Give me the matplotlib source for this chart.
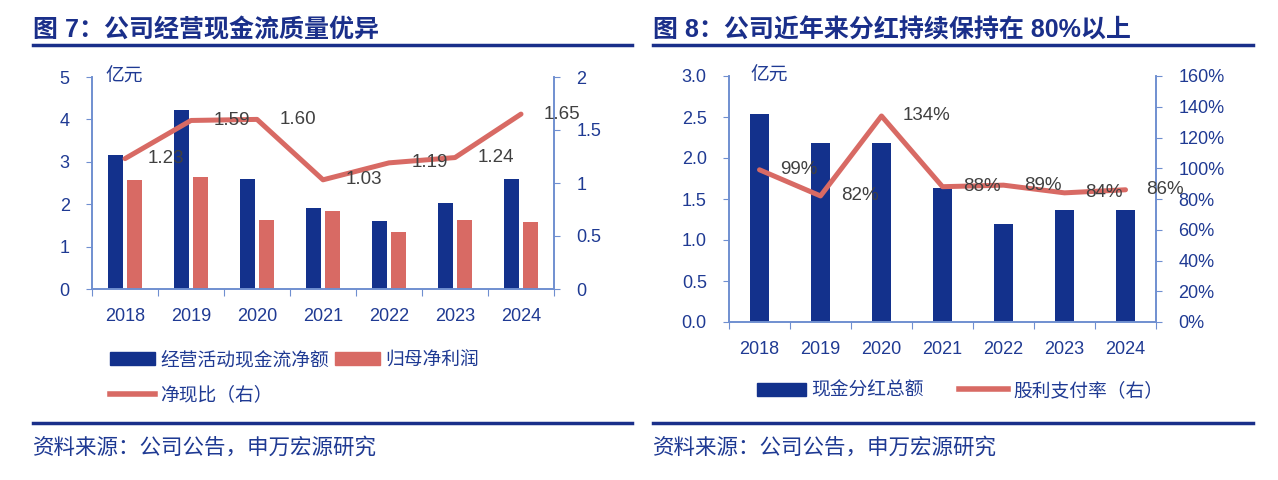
import matplotlib
matplotlib.use('Agg')
import matplotlib.pyplot as plt
from matplotlib.lines import Line2D
from matplotlib.patches import Patch
import numpy as np

plt.rcParams['font.family'] = ['Liberation Sans', 'Noto Sans CJK SC']

# data
years = ['2018', '2019', '2020', '2021', '2022', '2023', '2024']
ocf = [3.15, 4.22, 2.60, 1.90, 1.60, 2.02, 2.60]          # 经营活动现金流净额
net_profit = [2.56, 2.65, 1.62, 1.85, 1.34, 1.62, 1.57]   # 归母净利润
cash_ratio = [1.23, 1.59, 1.60, 1.03, 1.19, 1.24, 1.65]   # 净现比
dividend = [2.54, 2.18, 2.18, 1.64, 1.20, 1.37, 1.36]     # 现金分红总额
payout = [99, 82, 134, 88, 89, 84, 86]                    # 股利支付率 %

NAVY = '#13318c'
RED = '#d86a64'
AXC = '#6f8fd0'
TXT = '#1f3a93'
LBL = '#404040'
TITLE = '#1a2f8a'

fig = plt.figure(figsize=(12.78, 4.8), dpi=100)
W, H = 1278, 480


def fx(px):
    return px / W


def fy(py):
    return 1 - py / H


def style(ax, twin):
    x = np.arange(len(years))
    ax.set_xlim(-0.5, len(years) - 0.5)
    ax.set_xticks(np.arange(-0.5, len(years)), [''] * (len(years) + 1))
    ax.set_xticks(x, years, minor=True)
    ax.tick_params(axis='x', which='major', length=5, color=AXC, direction='out')
    ax.tick_params(axis='x', which='minor', length=0, pad=14, labelsize=13, labelcolor=TXT)
    ax.tick_params(axis='y', length=4, color=AXC, labelsize=13, labelcolor=TXT, pad=12)
    twin.tick_params(axis='y', length=4, color=AXC, labelsize=13, labelcolor=TXT, pad=12)
    for a in (ax, twin):
        a.spines['top'].set_visible(False)
        for s in ('left', 'right', 'bottom'):
            a.spines[s].set_color(AXC)
            a.spines[s].set_linewidth(1.2)


def header(x0, x1, title):
    fig.text(fx(x0), fy(30), title, fontsize=18, fontweight='bold', color=TITLE,
             va='center', ha='left')
    fig.add_artist(Line2D([fx(x0), fx(x1)], [fy(45), fy(45)], color=TITLE, lw=2.5))
    fig.add_artist(Line2D([fx(x0), fx(x1)], [fy(423), fy(423)], color=TITLE, lw=2.5))
    fig.text(fx(x0), fy(448), '资料来源：公司公告，申万宏源研究', fontsize=15.5, color=TXT,
             va='center', ha='left')


####################################################################################################
# 图 7
####################################################################################################

x = np.arange(len(years))
ax1 = fig.add_axes([fx(92), fy(289), fx(554 - 92), (289 - 77) / H])
ax1b = ax1.twinx()
ax1.bar(x - 0.145, ocf, 0.22, color=NAVY, zorder=2)
ax1.bar(x + 0.145, net_profit, 0.22, color=RED, zorder=2)
ax1.set_ylim(0, 5)
ax1.set_yticks(range(6))
ax1b.plot(x, cash_ratio, color=RED, lw=3.6, solid_capstyle='round')
ax1b.set_ylim(0, 2)
ax1b.set_yticks([0, 0.5, 1, 1.5, 2], ['0', '0.5', '1', '1.5', '2'])
for i, v in enumerate(cash_ratio):
    ax1b.text(i + 0.34, v, f'{v:.2f}', fontsize=13.5, color=LBL, ha='left', va='center')
style(ax1, ax1b)
ax1.text(0.03, 1.0, '亿元', transform=ax1.transAxes, fontsize=13.5, color=TXT,
         ha='left', va='center')

h1 = [Patch(color=NAVY), Line2D([], [], color=RED, lw=4), Patch(color=RED)]
l1 = ['经营活动现金流净额', '净现比（右）', '归母净利润']
fig.legend(h1, l1, ncol=2, loc='upper left', bbox_to_anchor=(fx(93), fy(335)),
           frameon=False, fontsize=13.5, handlelength=2.4, handleheight=0.7,
           handletextpad=0.3, columnspacing=0.3, labelspacing=0.9, labelcolor=TXT)

header(33, 632, '图 7：公司经营现金流质量优异')

####################################################################################################
# 图 8
####################################################################################################

ax2 = fig.add_axes([fx(729), fy(322), fx(1156 - 729), (322 - 76) / H])
ax2b = ax2.twinx()
ax2.bar(x, dividend, 0.31, color=NAVY, zorder=2)
ax2.set_ylim(0, 3)
ax2.set_yticks(np.arange(0, 3.01, 0.5), [f'{v:.1f}' for v in np.arange(0, 3.01, 0.5)])
ax2b.plot(x, payout, color=RED, lw=3.6, solid_capstyle='round')
ax2b.set_ylim(0, 160)
ax2b.set_yticks(range(0, 161, 20), [f'{v}%' for v in range(0, 161, 20)])
for i, v in enumerate(payout):
    ax2b.text(i + 0.34, v, f'{v}%', fontsize=13.5, color=LBL, ha='left', va='center')
style(ax2, ax2b)
ax2.text(0.05, 1.0, '亿元', transform=ax2.transAxes, fontsize=13.5, color=TXT,
         ha='left', va='center')

h2 = [Patch(color=NAVY), Line2D([], [], color=RED, lw=4)]
l2 = ['现金分红总额', '股利支付率（右）']
fig.legend(h2, l2, ncol=2, loc='upper left', bbox_to_anchor=(fx(740), fy(365)),
           frameon=False, fontsize=13.5, handlelength=2.6, handleheight=0.7,
           handletextpad=0.3, columnspacing=1.9, labelcolor=TXT)

header(653, 1253, '图 8：公司近年来分红持续保持在 80%以上')

fig.savefig('out.png', dpi=100)
